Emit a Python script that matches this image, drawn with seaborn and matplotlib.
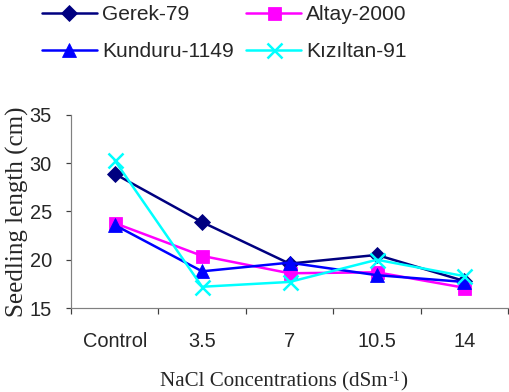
import numpy as np
import pandas as pd
import matplotlib
matplotlib.use("Agg")
import matplotlib.pyplot as plt
import seaborn as sns

# NaCl treatments and seedling length (cm) per cultivar
concentrations = ["Control", "3.5", "7", "10.5", "14"]
gerek_79 = [28.9, 23.9, 19.6, 20.5, 17.8]
altay_2000 = [23.8, 20.4, 18.6, 18.7, 17.1]
kunduru_1149 = [23.6, 18.8, 19.7, 18.4, 17.7]
kiziltan_91 = [30.3, 17.2, 17.7, 20.0, 18.3]

cultivars = ["Gerek-79", "Altay-2000", "Kunduru-1149", "Kızıltan-91"]
series = [gerek_79, altay_2000, kunduru_1149, kiziltan_91]

df = pd.DataFrame({
    "conc": concentrations * len(cultivars),
    "length": np.concatenate(series),
    "cultivar": np.repeat(cultivars, len(concentrations)),
})

palette = {"Gerek-79": "#000080", "Altay-2000": "#FF00FF",
           "Kunduru-1149": "#0000FF", "Kızıltan-91": "#00FFFF"}
markers = {"Gerek-79": "D", "Altay-2000": "s",
           "Kunduru-1149": "^", "Kızıltan-91": "x"}
msizes = {"Gerek-79": 12, "Altay-2000": 13, "Kunduru-1149": 14, "Kızıltan-91": 15}

sns.set_style("white")
plt.rcParams["font.family"] = ["Liberation Sans", "DejaVu Sans"]

W, H = 509, 392
fig = plt.figure(figsize=(W / 72, H / 72), dpi=72)
ax = fig.add_axes([71 / W, 1 - 308 / H, 437 / W, 193 / H])

for name in cultivars:
    sub = df[df["cultivar"] == name]
    sns.lineplot(data=sub, x="conc", y="length", ax=ax, color=palette[name],
                 marker=markers[name], markersize=msizes[name],
                 markeredgewidth=2.5 if name == "Kızıltan-91" else 0.8,
                 markeredgecolor=palette[name], linewidth=2.5,
                 label=name, sort=False)

ax.set_xlim(-0.5, len(concentrations) - 0.5)
ax.set_ylim(15, 35)
ax.set_yticks([15, 20, 25, 30, 35])
ax.set_xticks(range(len(concentrations)))
ax.set_xticklabels(concentrations)
ax.set_xticks(np.arange(-0.5, len(concentrations), 1.0), minor=True)

for side in ["top", "right"]:
    ax.spines[side].set_visible(False)
for side in ["left", "bottom"]:
    ax.spines[side].set_color("#808080")
    ax.spines[side].set_linewidth(1.2)

ax.tick_params(axis="x", which="major", length=0, pad=24, labelsize=20)
ax.tick_params(axis="x", which="minor", direction="out", length=6,
               width=1.2, color="#404040", bottom=True)
ax.tick_params(axis="y", direction="out", length=5, width=1.2,
               color="#404040", left=True, pad=14, labelsize=20)

ax.set_xlabel("")
ax.set_ylabel("Seedling length (cm)", family="Liberation Serif",
              fontsize=25, labelpad=1)

# x-axis title with a hyphen-style superscript unit exponent
serif = "Liberation Serif"
t1 = fig.text(160 / W, 1 - 386 / H, "NaCl Concentrations (dSm",
              family=serif, fontsize=21, ha="left", va="baseline")
t2 = ax.annotate("-1", xy=(1, 1), xycoords=t1, xytext=(0.5, 1),
                 textcoords="offset points", family=serif, fontsize=14,
                 ha="left", va="top", annotation_clip=False)
t3 = ax.annotate(")", xy=(1, 0), xycoords=(t2, t1), xytext=(0.5, 0),
                 textcoords="offset points", family=serif, fontsize=21,
                 ha="left", va="bottom", annotation_clip=False)

# legend laid out row by row
handles, labels = ax.get_legend_handles_labels()
ax.get_legend().remove()
order = [0, 2, 1, 3]
fig.legend([handles[i] for i in order], [labels[i] for i in order],
           loc="upper left", bbox_to_anchor=(42 / W, 1 - 5 / H),
           ncol=2, frameon=False, fontsize=21, handlelength=2.6,
           handletextpad=0.25, columnspacing=0.6, labelspacing=0.85,
           borderaxespad=0, borderpad=0)

fig.savefig("out.png", dpi=72)
